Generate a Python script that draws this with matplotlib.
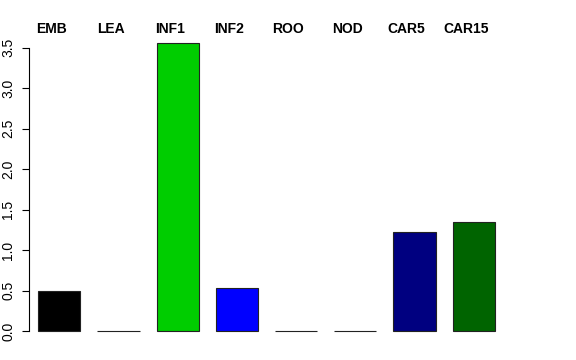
import matplotlib
matplotlib.use('Agg')
import matplotlib.pyplot as plt
import matplotlib.transforms as mtransforms

tissues = ['EMB', 'LEA', 'INF1', 'INF2', 'ROO', 'NOD', 'CAR5', 'CAR15']
values = [0.49, 0.0, 3.56, 0.535, 0.0, 0.0, 1.228, 1.347]
colors = ['#000000', '#FF0000', '#00CD00', '#0000FF', '#00FFFF', '#FF00FF', '#000080', '#006400']
yticks = [0.0, 0.5, 1.0, 1.5, 2.0, 2.5, 3.0, 3.5]

plt.rcParams['font.family'] = ['Liberation Sans', 'DejaVu Sans']

fig = plt.figure(figsize=(5.76, 3.6), dpi=100)
# axes placed in pixel terms to mimic the R plot region
ax = fig.add_axes([29 / 576, 20 / 360, 475 / 576, 300 / 360])

x = list(range(len(tissues)))
ax.bar(x, values, width=0.71, color=colors, edgecolor='#222222', linewidth=0.8)

ax.set_xlim(-0.512, 7.512)
ax.set_ylim(-9 / 80.9, 291 / 80.9)

for s in ['top', 'right', 'bottom']:
    ax.spines[s].set_visible(False)
ax.spines['left'].set_bounds(0, 3.5)
ax.spines['left'].set_linewidth(0.8)
ax.set_xticks([])
ax.set_yticks(yticks)
ax.set_yticklabels([f'{v:.1f}' for v in yticks], rotation=90, va='center', fontsize=10)
ax.tick_params(axis='y', length=5, width=0.8, pad=5)

trans = mtransforms.blended_transform_factory(ax.transData, fig.transFigure)
for xi, name in zip(x, tissues):
    ax.text(xi - 0.135, 1 - 29 / 360, name, transform=trans, ha='center', va='center',
            fontsize=10, fontweight='bold', clip_on=False)

fig.savefig('out.png', dpi=100)
